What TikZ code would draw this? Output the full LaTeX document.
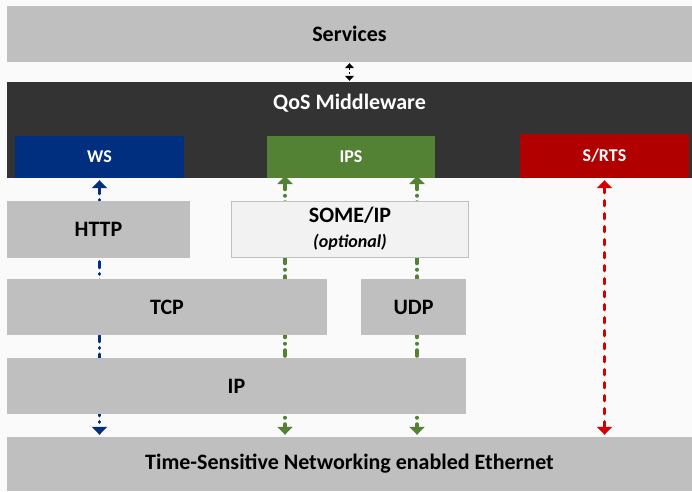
\documentclass[tikz,border=0pt]{standalone}
\usepackage{fontspec}
\setmainfont{Carlito}
\usetikzlibrary{arrows.meta}
\definecolor{bg}{HTML}{FAFAFA}
\definecolor{boxgray}{HTML}{BFBFBF}
\definecolor{darkbar}{HTML}{333333}
\definecolor{wsblue}{HTML}{002F7F}
\definecolor{ipsgreen}{HTML}{548235}
\definecolor{srtsred}{HTML}{B00000}
\definecolor{arred}{HTML}{D40000}
\definecolor{optfill}{HTML}{F2F2F2}
\tikzset{
  layer/.style={fill=boxgray, draw=none, inner sep=0pt, font=\fontsize{22}{26}\selectfont\bfseries, text=black},
  svc/.style={draw=none, inner sep=0pt, font=\fontsize{18}{21}\selectfont\bfseries, text=white},
  flow/.style={line width=3.5pt, dash pattern=on 6pt off 6pt on 0.5pt off 6pt, line cap=round,
    {Triangle[width=15pt,length=8pt,line cap=butt]}-{Triangle[width=15pt,length=8pt,line cap=butt]}},
  flowred/.style={line width=3.5pt, dash pattern=on 5pt off 8pt, line cap=round,
    {Triangle[width=15pt,length=8pt,line cap=butt]}-{Triangle[width=15pt,length=8pt,line cap=butt]}},
}
\begin{document}
\begin{tikzpicture}[x=1pt,y=-1pt]
\useasboundingbox (0,0) rectangle (692,491);
\fill[bg] (0,0) rectangle (692,491);
% top layers
\node[layer, minimum width=685pt, minimum height=56pt] (services) at (349.5,34) {Services};
\node[fill=darkbar, inner sep=0pt, minimum width=685pt, minimum height=96pt] (qos) at (349.5,130) {};
\node[svc, font=\fontsize{22}{26}\selectfont\bfseries] (qoslbl) at (349.5,103) {QoS Middleware};
\node[svc, fill=wsblue, minimum width=169pt, minimum height=42pt] (ws) at (99.5,157) {WS};
\node[svc, fill=ipsgreen, minimum width=168pt, minimum height=42pt] (ips) at (351,157) {IPS};
\node[svc, fill=srtsred, minimum width=169pt, minimum height=44pt] (srts) at (604.5,156) {S/RTS};
\node[layer, minimum width=685pt, minimum height=54pt] (tsn) at (349.5,464) {Time-Sensitive Networking enabled Ethernet};
% services <-> qos
\draw[line width=1pt, dash pattern=on 2pt off 2pt, {Triangle[width=9pt,length=5pt]}-{Triangle[width=9pt,length=5pt]}]
  ([yshift=-1pt]services.south -| qoslbl.north) -- ([yshift=1pt]qos.north);
% flows (behind protocol boxes)
\coordinate (g1t) at (285,178);
\coordinate (g2t) at (417,178);
\draw[flow, wsblue] ([yshift=-2pt]ws.south) -- ([yshift=2pt]ws.south |- tsn.north);
\draw[flow, ipsgreen] ([yshift=2pt]g1t) -- ([yshift=2pt]g1t |- tsn.north);
\draw[flow, ipsgreen] ([yshift=2pt]g2t) -- ([yshift=2pt]g2t |- tsn.north);
\draw[flowred, arred] ([yshift=-2pt]srts.south) -- ([yshift=2pt]srts.south |- tsn.north);
% protocol boxes
\node[layer, minimum width=183pt, minimum height=57pt] (http) at (98.5,229.5) {HTTP};
\node[layer, fill=optfill, draw=boxgray, line width=1.2pt, minimum width=237pt, minimum height=56pt] (someip) at (350,229.5) {};
\node[layer, fill=none] (somelbl) at (350,215) {SOME/IP};
\node[layer, fill=none, font=\fontsize{18}{21}\selectfont\bfseries\itshape] (optlbl) at (350,242) {(optional)};
\node[layer, minimum width=320pt, minimum height=56pt] (tcp) at (167,307) {TCP};
\node[layer, minimum width=105pt, minimum height=56pt] (udp) at (413.5,307) {UDP};
\node[layer, minimum width=459pt, minimum height=56pt] (ip) at (236.5,386) {IP};
\end{tikzpicture}
\end{document}
